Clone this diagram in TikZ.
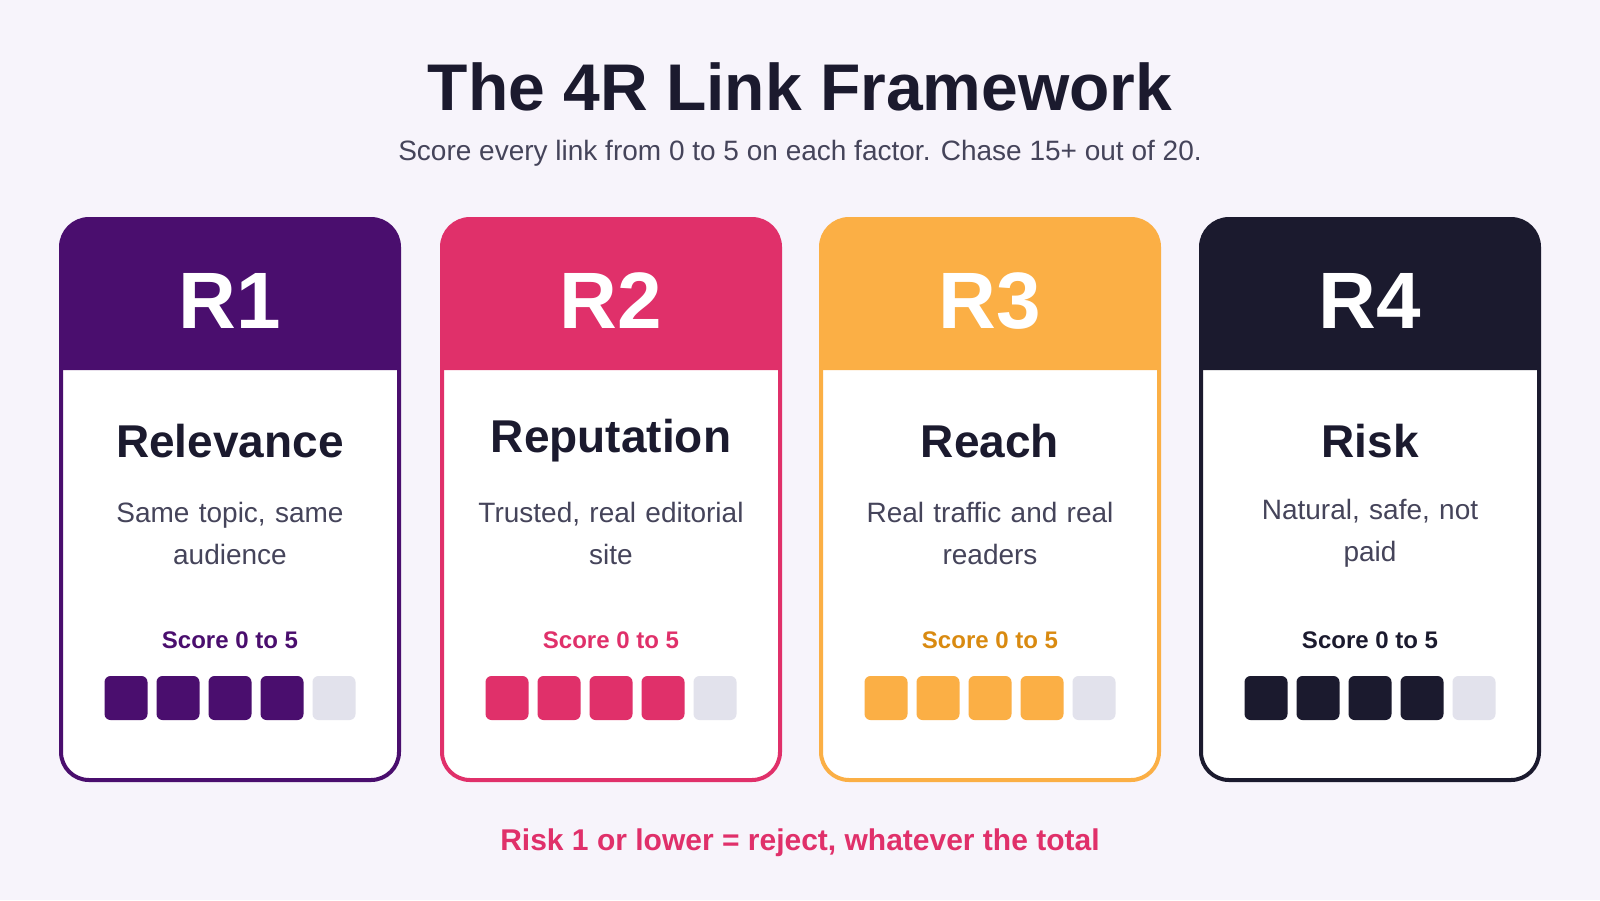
\documentclass[tikz,border=0pt]{standalone}
\usepackage{fontspec}
\setmainfont{Liberation Sans}
\definecolor{bg}{HTML}{F7F4FB}
\definecolor{cA}{HTML}{4A0E6E}
\definecolor{cB}{HTML}{E0306A}
\definecolor{cC}{HTML}{FBAF45}
\definecolor{cD}{HTML}{1B1A2E}
\definecolor{sC}{HTML}{D98A10}
\definecolor{ink}{HTML}{1B1A2E}
\definecolor{grey}{HTML}{45445A}
\definecolor{empty}{HTML}{E2E2EC}
\begin{document}
\begin{tikzpicture}[x=0.5pt,y=-0.5pt,
  card/.style={line width=2pt,rounded corners=14pt},
  sq/.style={rounded corners=3pt},
  rlab/.style={text=white,font=\fontsize{40}{44}\selectfont\bfseries},
  nm/.style={text=ink,font=\fontsize{23}{26}\selectfont\bfseries},
  desc/.style={text=grey,font=\fontsize{14}{21}\selectfont,align=center,text width=140pt},
  score/.style={font=\fontsize{12}{14}\selectfont\bfseries}]
\fill[bg] (0,0) rectangle (1600,900);
\node[text=ink,font=\fontsize{33}{38}\selectfont\bfseries] (title) at (800,87) {The 4R Link Framework};
\node[text=grey,font=\fontsize{14}{17}\selectfont] (sub) at (800,153) {Score every link from 0 to 5 on each factor. Chase 15+ out of 20.};
\foreach \cx/\c/\sc/\r/\n/\d [count=\i] in {
  230/cA/cA/R1/Relevance/{Same topic, same\\audience},
  611/cB/cB/R2/Reputation/{Trusted, real editorial\\site},
  990/cC/sC/R3/Reach/{Real traffic and real\\readers},
  1370/cD/cD/R4/Risk/{Natural, safe, not\\paid}}{
  \fill[white,card] (\cx-169,219) rectangle (\cx+169,780);
  \fill[\c,rounded corners=14pt] (\cx-169,370) -- (\cx-169,219) -- (\cx+169,219) [sharp corners] -- (\cx+169,370) -- cycle;
  \draw[\c,card] (\cx-169,219) rectangle (\cx+169,780);
  \node[rlab] (r\i) at (\cx,301) {\r};
  \node[nm] (n\i) at (\cx,441) {\n};
  \node[desc] (d\i) at (\cx,533) {\d};
  \node[score,text=\sc] (s\i) at (\cx,640) {Score 0 to 5};
  \foreach \k in {-2,-1,0,1} \fill[\c,sq] (\cx+\k*52-21.5,676) rectangle (\cx+\k*52+21.5,720);
  \fill[empty,sq] (\cx+104-21.5,676) rectangle (\cx+104+21.5,720);
}
\node[text=cB,font=\fontsize{15}{18}\selectfont\bfseries] (foot) at (800,843) {Risk 1 or lower = reject, whatever the total};
\end{tikzpicture}
\end{document}
